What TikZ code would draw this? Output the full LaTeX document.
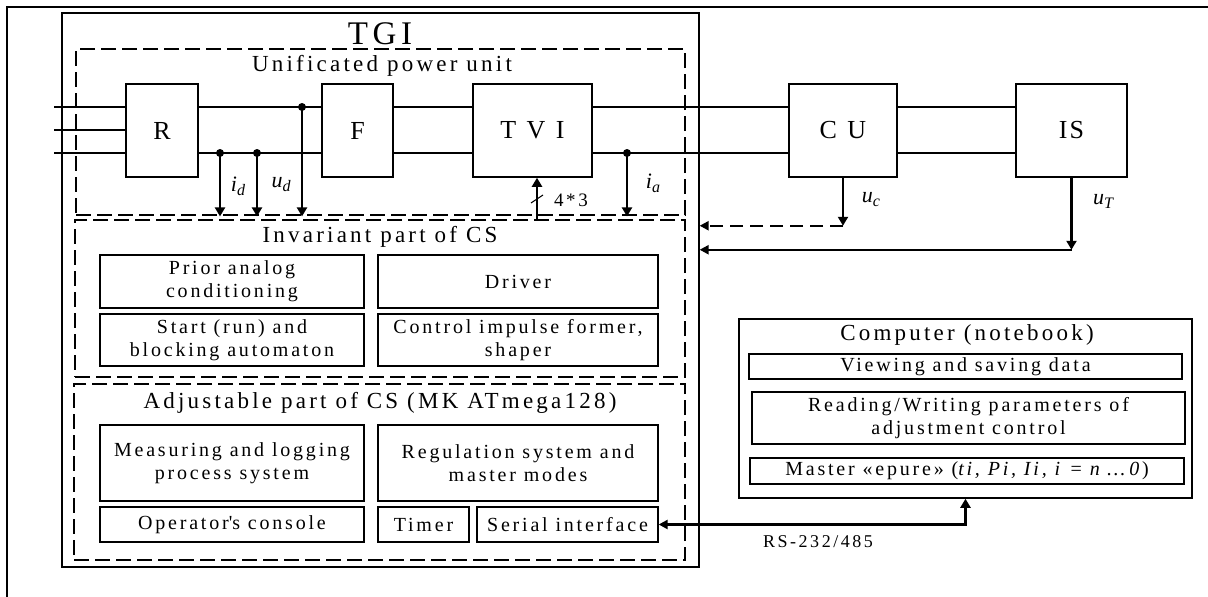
\documentclass[tikz,border=0pt]{standalone}
\usepackage{fontspec}
\setmainfont{Liberation Serif}[LetterSpace=14]
\newfontfamily\blkfont{Liberation Serif}[LetterSpace=40]
\newfontfamily\isfont{Liberation Serif}[LetterSpace=8]
\usetikzlibrary{arrows.meta}
\newcommand\txtsize{\fontsize{20}{23}\selectfont}
\newcommand\ttlsize{\fontsize{23}{26}\selectfont}
\newcommand\sglab[2]{{\fontsize{22}{24}\selectfont\itshape #1\raisebox{-4pt}{\fontsize{16}{18}\selectfont #2}}}

\begin{document}
\begin{tikzpicture}[x=1pt,y=-1pt,
        blk/.style={draw, line width=1.5pt, inner sep=0pt, minimum height=93, font=\blkfont\fontsize{26}{28}\selectfont},
        part/.style={draw, line width=1.3pt, inner sep=0pt, align=center, font=\txtsize},
        grp/.style={draw, line width=2.8pt, dash pattern=on 15pt off 6pt, inner sep=0pt},
        ttl/.style={inner sep=0pt, font=\ttlsize},
        bus/.style={line width=1.2pt},
        dot/.style={circle, fill, inner sep=0pt, minimum size=8pt},
        sig/.style={line width=2.6pt, -{Triangle[width=10pt,length=9pt]}},
        fb/.style={line width=2.2pt, -{Triangle[width=9pt,length=9pt]}}]
        \useasboundingbox (0,0) rectangle (1208,597);
        \draw[line width=1.5pt] (7,597) -- (7,7) -- (1208,7);

        \node[draw, line width=1.3pt, minimum width=637, minimum height=554] (TGI) at (380.5,290) {};
        \node[inner sep=0pt, font=\fontsize{33}{36}\selectfont] (tgit) at (380,34) {TGI};

        \node[grp, minimum width=609, minimum height=166] (U) at (380.5,132) {};
        \node[ttl] (ut) at (382,66) {Unificated power unit};
        \node[grp, minimum width=610, minimum height=157] (Inv) at (380,298.5) {};
        \node[ttl] (invt) at (380,237) {Invariant part of CS};
        \node[grp, minimum width=611, minimum height=176] (Adj) at (379.5,472) {};
        \node[ttl] (adjt) at (380,403) {Adjustable part of CS (MK ATmega128)};

        \node[blk, minimum width=72] (R) at (162,130.5) {R};
        \node[blk, minimum width=71] (F) at (357.5,130.5) {F};
        \node[blk, minimum width=119] (TVI) at (532.5,130.5) {TVI};
        \node[blk, minimum width=108] (CU) at (843,130.5) {CU};
        \node[blk, minimum width=111, font=\isfont\fontsize{26}{28}\selectfont] (IS) at (1071.5,130.5) {IS};

        \foreach \y in {107,130,153} {
            \coordinate (in\y) at (54,\y);
            \draw[bus] (in\y) -- (in\y -| R.west);
        }
        \foreach \a/\b in {R/F,F/TVI,TVI/CU,CU/IS} {
            \draw[bus] ([yshift=23.5pt]\a.east) -- ([yshift=23.5pt]\b.west);
            \draw[bus] ([yshift=-22.5pt]\a.east) -- ([yshift=-22.5pt]\b.west);
        }

        \node[dot] (id) at (220,153) {};
        \node[dot] (ud) at (257,153) {};
        \node[dot] (uf) at (302,107) {};
        \node[dot] (ia) at (627,153) {};
        \foreach \n in {id,ud,uf,ia}
            \draw[sig] (\n.center) -- (\n.center |- U.south);
        \node (idt) at (238,186) {\sglab{i}{d}};
        \node (udt) at (281,185) {\sglab{u}{d}};
        \node (iat) at (653,183) {\sglab{i}{a}};

        \coordinate (ctl) at (537,220);
        \draw[sig] (ctl) -- (ctl |- TVI.south);
        \draw[line width=1pt] (531,203) -- (543,195);
        \node[inner sep=0pt, font=\fontsize{19}{21}\selectfont] (ctlt) at (571,200) {4*3};

        \draw[sig] (CU.south) -- ++(0,48) coordinate (uc);
        \draw[fb, dash pattern=on 13pt off 7pt] (uc) -- (uc -| TGI.east);
        \node (uct) at (871,200) {\sglab{u}{c}};
        \draw[sig] (IS.south) -- ++(0,72) coordinate (uT);
        \draw[fb] (uT) -- (uT -| TGI.east);
        \node (uTt) at (1103,201) {\sglab{u}{T}};

        \node[part, minimum width=264, minimum height=53] (prior) at (232,281.5) {Prior analog\\conditioning};
        \node[part, minimum width=280, minimum height=53] (drv) at (518,281.5) {Driver};
        \node[part, minimum width=264, minimum height=52] (start) at (232,340) {Start (run) and\\blocking automaton};
        \node[part, minimum width=280, minimum height=52] (cif) at (518,340) {Control impulse former,\\shaper};

        \node[part, minimum width=264, minimum height=76] (meas) at (232,463) {Measuring and logging\\process system};
        \node[part, minimum width=280, minimum height=76] (reg) at (518,463) {Regulation system and\\master modes};
        \node[part, minimum width=264, minimum height=35] (oper) at (232,524.5) {Operator\textquotesingle s console};
        \node[part, minimum width=91, minimum height=35] (tmr) at (423.5,524.5) {Timer};
        \node[part, minimum width=181, minimum height=35] (serial) at (567.5,524.5) {Serial interface};

        \node[draw, line width=1.5pt, minimum width=453, minimum height=179] (PC) at (965.5,408.5) {};
        \node[ttl] (pct) at (967,335) {Computer (notebook)};
        \node[part, minimum width=433, minimum height=25] (view) at (965.5,366.5) {Viewing and saving data};
        \node[part, minimum width=433, minimum height=52] (read) at (968.5,418) {Reading/Writing parameters of\\adjustment control};
        \node[part, minimum width=434, minimum height=26] (mst) at (967,471) {Master «epure» (\textit{ti, Pi, Ii, i} = \textit{n}\,…\,\textit{0})};

        \draw[line width=2.4pt, {Triangle[width=9pt,length=9pt]}-{Triangle[width=10pt,length=9pt]}] (serial.east) -- (serial.east -| PC.south) -- (PC.south);
        \node[inner sep=0pt, font=\fontsize{18}{20}\selectfont] (rs) at (818,542) {RS-232/485};
\end{tikzpicture}
\end{document}
